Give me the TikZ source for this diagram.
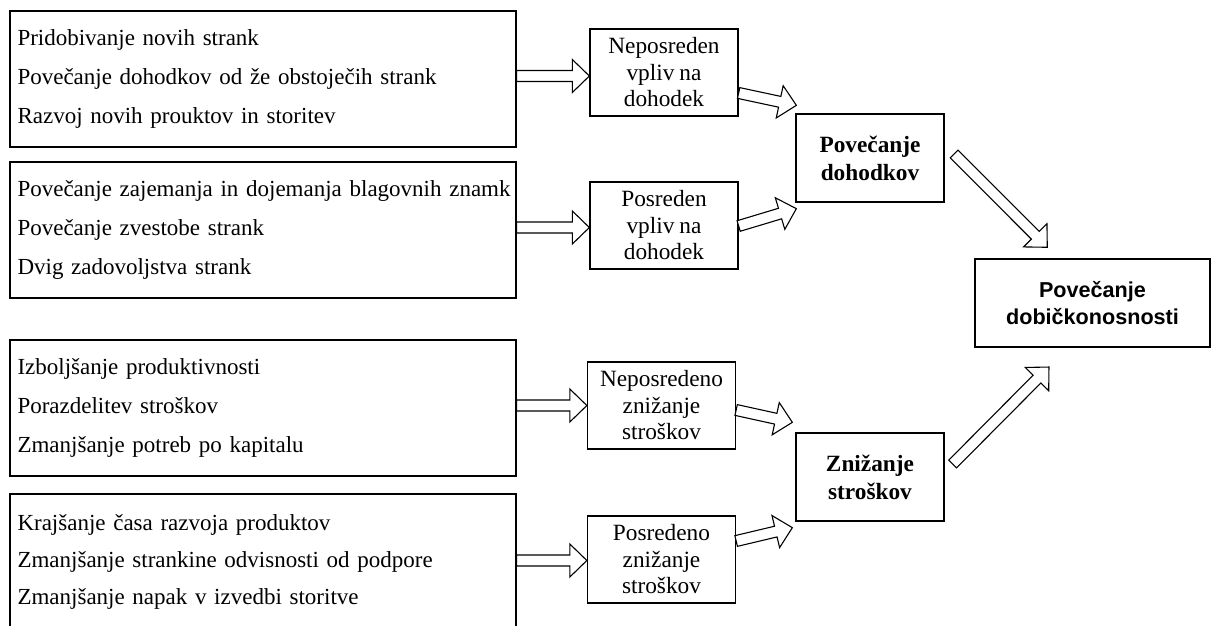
\documentclass[tikz,border=0pt]{standalone}
\usepackage{fontspec}
\setmainfont{Liberation Serif}[WordSpace=0.85]
\newfontfamily\arialfont{Liberation Sans}
\usetikzlibrary{calc}
\tikzset{
  frame/.style={draw=black, line width=1.3pt, inner sep=0pt},
  lbox/.style={frame, minimum width=506pt, minimum height=136pt, text width=491pt, align=left,
    font=\fontsize{23}{39}\selectfont},
  mbox/.style={frame, minimum width=148pt, minimum height=87pt, align=center,
    font=\fontsize{23.3}{26.5}\selectfont},
  rbox/.style={frame, minimum width=148pt, minimum height=88pt, align=center,
    font=\bfseries\fontsize{23.3}{28}\selectfont},
  goalbox/.style={frame, minimum width=235pt, minimum height=88pt, align=center,
    font=\arialfont\bfseries\fontsize{21.6}{27}\selectfont},
  barrow/.style={draw=black, fill=white, line width=1.1pt, line join=miter},
}
\newcommand\blkarrow[2]{%
  \draw[barrow] let \p1=#1, \p2=#2,
    \n1={atan2(\y2-\y1,\x2-\x1)}, \n2={veclen(\x2-\x1,\y2-\y1)} in
    [shift={(\x1,\y1)}, rotate=\n1]
    (0pt,-5.5pt) -- ({\n2*1pt-17pt},-5.5pt) -- ({\n2*1pt-17pt},-16.5pt) -- ({\n2*1pt},0pt)
    -- ({\n2*1pt-17pt},16.5pt) -- ({\n2*1pt-17pt},5.5pt) -- (0pt,5.5pt) -- cycle;}
\begin{document}
\begin{tikzpicture}[x=1pt,y=-1pt]
\clip (0,0) rectangle (1211,625);
\fill[white] (0,0) rectangle (1211,625);
% left boxes
\node[lbox] (L1) at (263,79) {Pridobivanje novih strank\\Povečanje dohodkov od že obstoječih strank\\Razvoj novih prouktov in storitev};
\node[lbox] (L2) at (263,230) {\mbox{Povečanje zajemanja in dojemanja blagovnih znamk}\\Povečanje zvestobe strank\\Dvig zadovoljstva strank};
\node[lbox] (L3) at (263,408) {Izboljšanje produktivnosti\\Porazdelitev stroškov\\Zmanjšanje potreb po kapitalu};
\node[lbox, font=\fontsize{23}{37}\selectfont] (L4) at (263,562) {Krajšanje časa razvoja produktov\\Zmanjšanje strankine odvisnosti od podpore\\Zmanjšanje napak v izvedbi storitve};
% middle boxes
\node[mbox] (M1) at (664,72.5) {Neposreden\\vpliv na\\dohodek};
\node[mbox] (M2) at (664,225.5) {Posreden\\vpliv na\\dohodek};
\node[mbox] (M3) at (661.5,405.5) {Neposredeno\\znižanje\\stroškov};
\node[mbox] (M4) at (661.5,559.5) {Posredeno\\znižanje\\stroškov};
% right boxes
\node[rbox] (R1) at (870,158) {Povečanje\\dohodkov};
\node[rbox] (R2) at (870,477) {Znižanje\\stroškov};
\node[goalbox] (F) at (1092.5,303) {Povečanje\\dobičkonosnosti};
% arrows
\blkarrow{($(L1.east)+(0,-3)$)}{($(M1.west)+(0,3.5)$)}
\blkarrow{($(L2.east)+(0,-2.5)$)}{($(M2.west)+(0,2)$)}
\blkarrow{($(L3.east)+(0,-2.5)$)}{(M3.west)}
\blkarrow{($(L4.east)+(0,-1.5)$)}{($(M4.west)+(0,1)$)}
\blkarrow{($(M1.east)+(0,20.5)$)}{($(R1.north west)+(1,-8)$)}
\blkarrow{($(M2.east)+(0,0.5)$)}{($(R1.south west)+(1,6)$)}
\blkarrow{($(M3.east)+(0,4.5)$)}{($(R2.north west)+(-3,-10)$)}
\blkarrow{($(M4.east)+(0,-18.5)$)}{($(R2.south west)+(-3,6)$)}
\blkarrow{($(R1.east)+(9.5,-4)$)}{($(F.north west)+(73,-11)$)}
\blkarrow{($(R2.east)+(8,-13)$)}{($(F.south west)+(75,19)$)}
\end{tikzpicture}
\end{document}
